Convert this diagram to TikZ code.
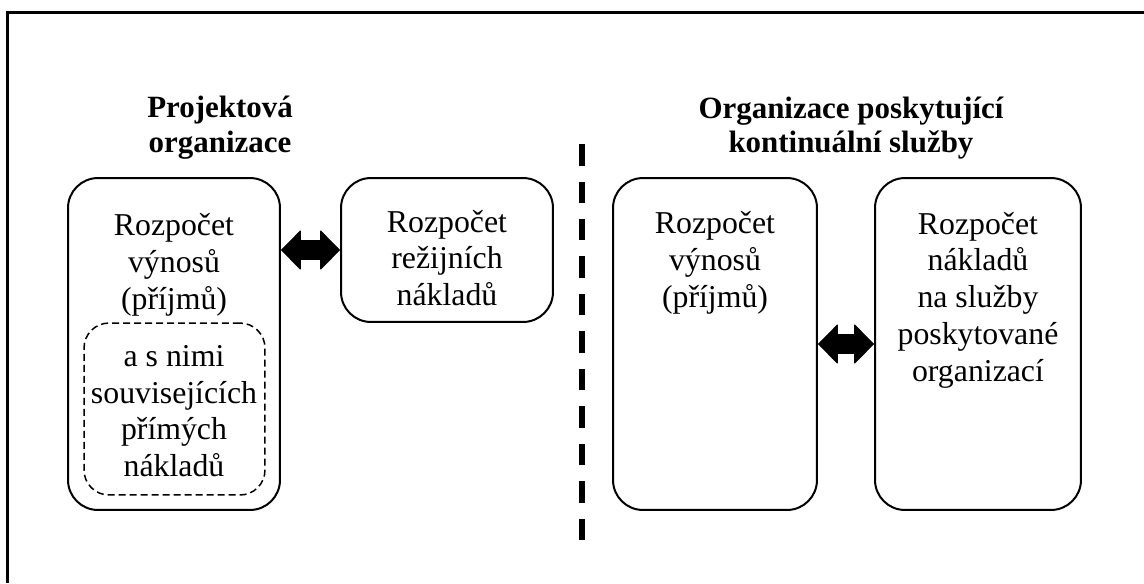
\documentclass[tikz,border=0pt]{standalone}
\usepackage{fontspec}
\setmainfont{Liberation Serif}
\usetikzlibrary{arrows.meta}

\begin{document}
\begin{tikzpicture}[x=0.02cm,y=-0.02cm,
    box/.style={draw,line width=0.4mm,rounded corners=0.6cm,minimum height=6.64cm},
    inner/.style={draw,line width=0.3mm,dash pattern=on 1.4mm off 0.8mm,rounded corners=0.5cm},
    txt/.style={align=center,inner sep=0pt,font=\fontsize{18.1}{20.9}\selectfont},
    head/.style={align=center,inner sep=0pt,font=\fontsize{17.6}{19.8}\selectfont\bfseries},
    link/.style={line width=3.9mm,{Triangle[length=4mm,width=8mm,line width=0.5pt,round]}-{Triangle[length=4mm,width=8mm,line width=0.5pt,round]}}]
    \useasboundingbox (0,0) rectangle (1144,583);
    % Frame
    \draw [line width=0.5mm] (7.5,583) -- (7.5,12.5) -- (1144,12.5);

    % Headings
    \node [head] (projekt) at (220,128) {Projektová\\organizace};
    \node [head] (kontinual) at (851,128) {Organizace poskytující\\kontinuální služby};

    % Dividing line
    \draw [line width=1.1mm,dash pattern=on 4.3mm off 3.2mm] (582,144) -- (582,540);

    % Boxes
    \node [box,minimum width=4.24cm] (vynosyA) at (174,344) {};
    \node [box,minimum width=4.24cm,minimum height=2.88cm] (rezie) at (447,250) {};
    \node [inner,minimum width=3.62cm,minimum height=3.44cm] (prime) at (174.5,409) {};
    \node [box,minimum width=4.08cm] (vynosyB) at (715,344) {};
    \node [box,minimum width=4.12cm] (sluzby) at (978,344) {};

    % Texts
    \node [txt] (tvynosyA) at (174,265) {Rozpočet\\výnosů\\(příjmů)};
    \node [txt] (tprime) at (174,411) {a s nimi\\souvisejících\\přímých\\nákladů};
    \node [txt] (trezie) at (447,258) {Rozpočet\\režijních\\nákladů};
    \node [txt] (tvynosyB) at (715,263) {Rozpočet\\výnosů\\(příjmů)};
    \node [txt] (tsluzby) at (978,300) {Rozpočet\\nákladů\\na služby\\poskytované\\organizací};

    % Arrows
    \draw [link] (vynosyA.east |- rezie.west) -- (rezie.west);
    \draw [link] (vynosyB.east) -- (sluzby.west);
\end{tikzpicture}
\end{document}
